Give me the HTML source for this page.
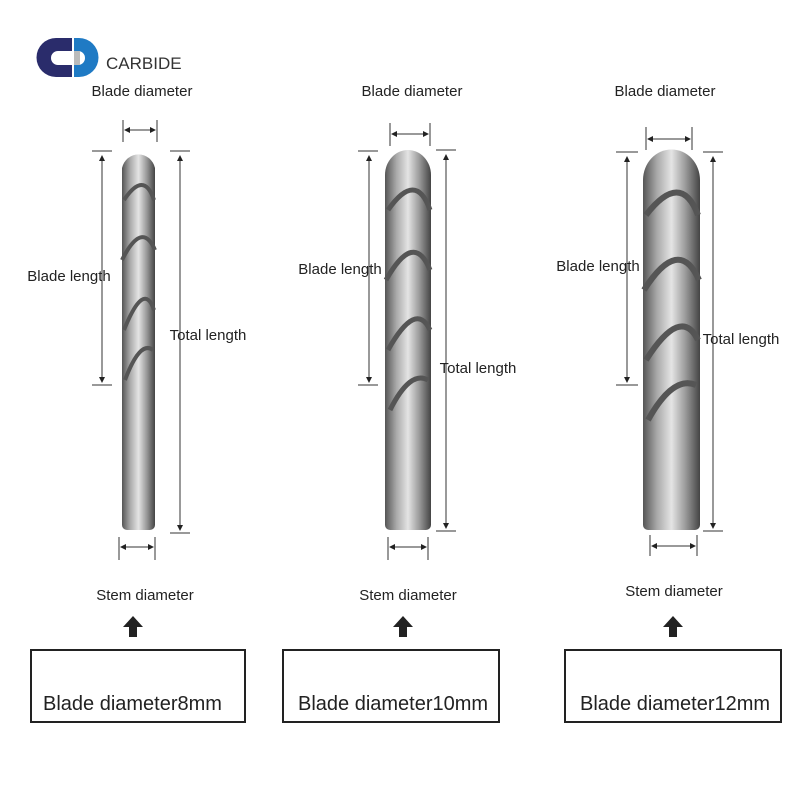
<!DOCTYPE html>
<html><head><meta charset="utf-8"><style>
body{margin:0;background:#fff}
svg{display:block}
text{font-family:"Liberation Sans",sans-serif;fill:#222}
</style></head><body>
<svg width="800" height="800" viewBox="0 0 800 800" xmlns="http://www.w3.org/2000/svg">
<defs>
<linearGradient id="g" x1="0" x2="1" y1="0" y2="0">
<stop offset="0" stop-color="#555"/><stop offset="0.25" stop-color="#aaa"/><stop offset="0.5" stop-color="#e4e4e4"/><stop offset="0.75" stop-color="#999"/><stop offset="1" stop-color="#444"/>
</linearGradient>
<marker id="a" markerWidth="6" markerHeight="6" refX="5" refY="3" orient="auto"><path d="M0,0L6,3L0,6z" fill="#222"/></marker>
<marker id="b" markerWidth="6" markerHeight="6" refX="1" refY="3" orient="auto"><path d="M6,0L0,3L6,6z" fill="#222"/></marker>
</defs>
<!-- logo -->
<path d="M56,38 h16 v13 h-14 a7,7 0 0 0 0,14 h14 v12 h-16 a19.5,19.5 0 0 1 0,-39z" fill="#2a2c6b"/>
<path d="M74,38 h5 a19.5,19.5 0 0 1 0,39 h-5 v-12 h4 a7,7 0 0 0 0,-14 h-4z" fill="#1f7ac4"/>
<rect x="74" y="51" width="6" height="14" fill="#bbb"/>
<text x="106" y="69" font-size="17" style="fill:#333">CARBIDE</text>

<g stroke="#333" stroke-width="1" fill="none">
<line x1="92" y1="151" x2="112" y2="151"/><line x1="92" y1="385" x2="112" y2="385"/>
<line x1="102" y1="156" x2="102" y2="382" marker-start="url(#b)" marker-end="url(#a)"/>
<line x1="170" y1="151" x2="190" y2="151"/><line x1="170" y1="533" x2="190" y2="533"/>
<line x1="180" y1="156" x2="180" y2="530" marker-start="url(#b)" marker-end="url(#a)"/>
<line x1="123" y1="120" x2="123" y2="142"/><line x1="157" y1="120" x2="157" y2="142"/>
<line x1="125" y1="130" x2="155" y2="130" marker-start="url(#b)" marker-end="url(#a)"/>
<line x1="119" y1="537" x2="119" y2="560"/><line x1="155" y1="537" x2="155" y2="560"/>
<line x1="121" y1="547" x2="153" y2="547" marker-start="url(#b)" marker-end="url(#a)"/>
<line x1="358" y1="151" x2="378" y2="151"/><line x1="358" y1="385" x2="378" y2="385"/>
<line x1="369" y1="156" x2="369" y2="382" marker-start="url(#b)" marker-end="url(#a)"/>
<line x1="436" y1="150" x2="456" y2="150"/><line x1="436" y1="531" x2="456" y2="531"/>
<line x1="446" y1="155" x2="446" y2="528" marker-start="url(#b)" marker-end="url(#a)"/>
<line x1="390" y1="123" x2="390" y2="146"/><line x1="430" y1="123" x2="430" y2="146"/>
<line x1="392" y1="134" x2="428" y2="134" marker-start="url(#b)" marker-end="url(#a)"/>
<line x1="388" y1="537" x2="388" y2="560"/><line x1="428" y1="537" x2="428" y2="560"/>
<line x1="390" y1="547" x2="426" y2="547" marker-start="url(#b)" marker-end="url(#a)"/>
<line x1="616" y1="152" x2="638" y2="152"/><line x1="616" y1="385" x2="638" y2="385"/>
<line x1="627" y1="157" x2="627" y2="382" marker-start="url(#b)" marker-end="url(#a)"/>
<line x1="703" y1="152" x2="723" y2="152"/><line x1="703" y1="531" x2="723" y2="531"/>
<line x1="713" y1="157" x2="713" y2="528" marker-start="url(#b)" marker-end="url(#a)"/>
<line x1="646" y1="127" x2="646" y2="150"/><line x1="692" y1="127" x2="692" y2="150"/>
<line x1="648" y1="139" x2="690" y2="139" marker-start="url(#b)" marker-end="url(#a)"/>
<line x1="650" y1="535" x2="650" y2="556"/><line x1="697" y1="535" x2="697" y2="556"/>
<line x1="652" y1="546" x2="695" y2="546" marker-start="url(#b)" marker-end="url(#a)"/>
</g>

<g>
<path d="M122,168 a17,18 0 0 1 33,0 v357 a5,5 0 0 1 -5,5 h-23 a5,5 0 0 1 -5,-5z" fill="url(#g)"/>
<path d="M124,200 q20,-30 30,0 M122,260 q20,-40 33,-10 M124,330 q20,-50 30,-20 M125,380 q15,-40 28,-30" stroke="#555" stroke-width="4" fill="none"/>
<path d="M385,175 a23,25 0 0 1 46,0 v350 a5,5 0 0 1 -5,5 h-36 a5,5 0 0 1 -5,-5z" fill="url(#g)"/>
<path d="M388,210 q28,-40 42,0 M386,280 q28,-50 44,-10 M388,350 q28,-50 42,-20 M390,410 q20,-40 38,-30" stroke="#555" stroke-width="5" fill="none"/>
<path d="M643,180 a28,30 0 0 1 57,0 v345 a5,5 0 0 1 -5,5 h-47 a5,5 0 0 1 -5,-5z" fill="url(#g)"/>
<path d="M646,215 q35,-45 52,0 M644,290 q35,-55 55,-10 M646,360 q35,-55 52,-20 M648,420 q25,-45 48,-35" stroke="#555" stroke-width="6" fill="none"/>
</g>

<g font-size="15" text-anchor="middle">
<text x="142" y="96">Blade diameter</text>
<text x="412" y="96">Blade diameter</text>
<text x="665" y="96">Blade diameter</text>
<text x="69" y="281">Blade length</text>
<text x="340" y="274">Blade length</text>
<text x="598" y="271">Blade length</text>
<text x="208" y="340">Total length</text>
<text x="478" y="373">Total length</text>
<text x="741" y="344">Total length</text>
<text x="145" y="600">Stem diameter</text>
<text x="408" y="600">Stem diameter</text>
<text x="674" y="596">Stem diameter</text>
</g>
<g fill="#222">
<path d="M133,616 l-10,11 h6 v10 h8 v-10 h6z"/>
<path d="M403,616 l-10,11 h6 v10 h8 v-10 h6z"/>
<path d="M673,616 l-10,11 h6 v10 h8 v-10 h6z"/>
</g>
<g fill="none" stroke="#222" stroke-width="2">
<rect x="31" y="650" width="214" height="72"/>
<rect x="283" y="650" width="216" height="72"/>
<rect x="565" y="650" width="216" height="72"/>
</g>
<g font-size="20">
<text x="43" y="710">Blade diameter8mm</text>
<text x="298" y="710">Blade diameter10mm</text>
<text x="580" y="710">Blade diameter12mm</text>
</g>
</svg>
</body></html>
